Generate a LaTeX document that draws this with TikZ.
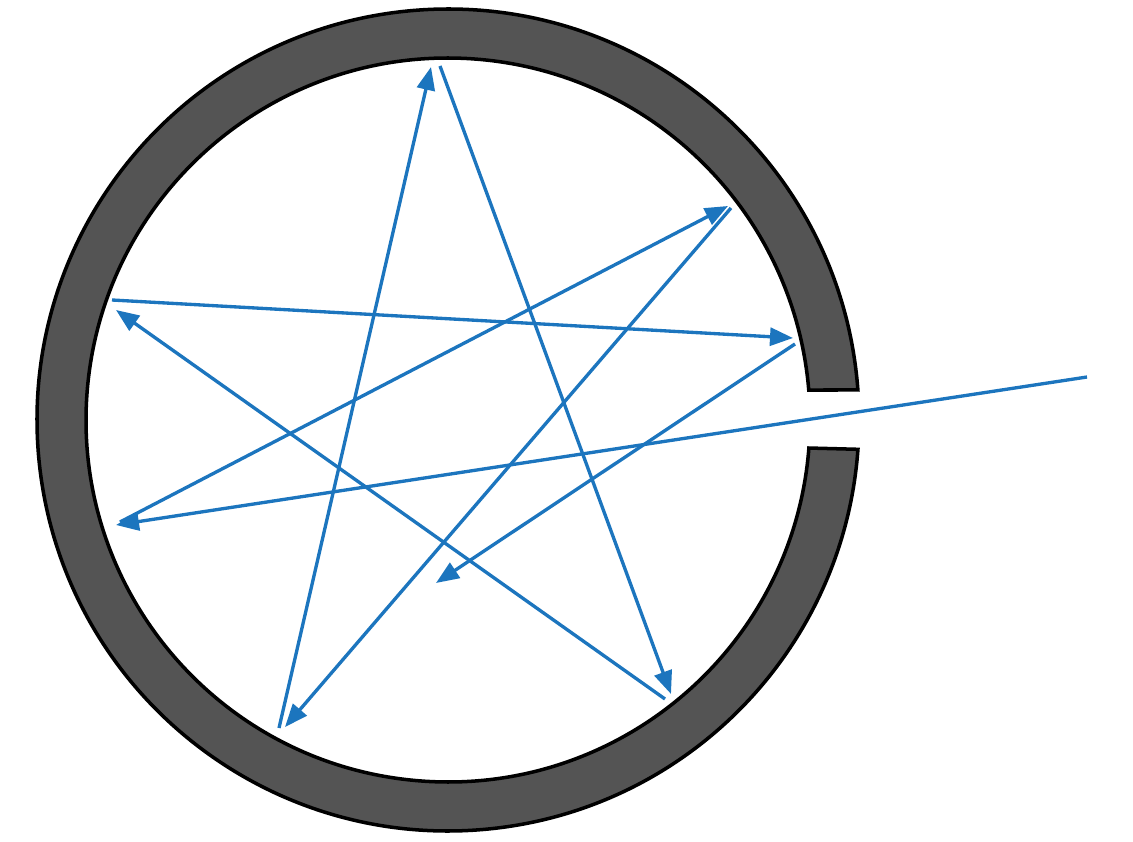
\documentclass[tikz,border=0pt]{standalone}
\usepackage{tikz}
\usetikzlibrary{arrows.meta,calc}
\definecolor{raycol}{RGB}{28,117,190}
\definecolor{wallcol}{RGB}{84,84,84}
\begin{document}
\begin{tikzpicture}[
    wall/.style={draw=black, line width=2pt, fill=wallcol},
    ray/.style={draw=raycol, line width=1.9pt, -{Triangle[length=0.46cm, width=0.36cm]}}
]
    \useasboundingbox (0,0) rectangle (22.66,16.82);
    \coordinate (c) at (8.96,8.42);
    \draw[wall] ($(c)+(4.19:8.22)$) arc[start angle=4.19, end angle=355.91, radius=8.22]
        -- ($(c)+(-4.44:7.24)$) arc[start angle=-4.44, end angle=-355.25, radius=7.24] -- cycle;

    \coordinate (src) at (21.74,9.28);
    \coordinate (hitA) at (2.32,6.32);
    \coordinate (outA) at (2.40,6.38);
    \coordinate (hitB) at (14.56,12.70);
    \coordinate (outB) at (14.62,12.66);
    \coordinate (hitC) at (5.70,2.28);
    \coordinate (outC) at (5.58,2.26);
    \coordinate (hitD) at (8.62,15.48);
    \coordinate (outD) at (8.80,15.50);
    \coordinate (hitE) at (13.42,2.94);
    \coordinate (outE) at (13.30,2.84);
    \coordinate (hitF) at (2.32,10.62);
    \coordinate (outF) at (2.24,10.82);
    \coordinate (hitG) at (15.86,10.06);
    \coordinate (outG) at (15.90,9.94);
    \coordinate (hitH) at (8.72,5.16);

    \draw[ray] (src) -- (hitA);
    \draw[ray] (outA) -- (hitB);
    \draw[ray] (outB) -- (hitC);
    \draw[ray] (outC) -- (hitD);
    \draw[ray] (outD) -- (hitE);
    \draw[ray] (outE) -- (hitF);
    \draw[ray] (outF) -- (hitG);
    \draw[ray] (outG) -- (hitH);
\end{tikzpicture}
\end{document}
